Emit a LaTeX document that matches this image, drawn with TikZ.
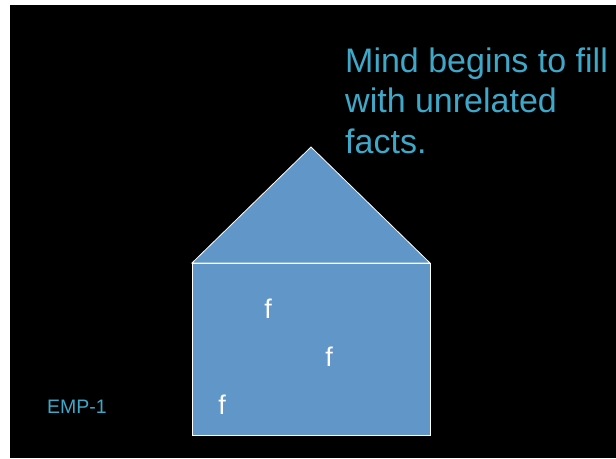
\documentclass[tikz,border=0pt]{standalone}
\usepackage{fontspec}
\setmainfont{Liberation Sans}
\definecolor{housefill}{RGB}{96,150,200}
\definecolor{teal}{RGB}{62,168,200}
\begin{document}
\begin{tikzpicture}[x=1pt,y=-1pt,
  housepart/.style={fill=housefill,draw=white,line width=0.8pt},
  fact/.style={text=white,font=\fontsize{27}{27}\selectfont,inner sep=0pt},
  caption/.style={text=teal,inner sep=0pt,anchor=base west}]
\useasboundingbox (0,0) rectangle (616,458);
\fill[white] (0,0) rectangle (616,458);
\fill[black] (10,5) rectangle (616,458);
\coordinate (apex) at (311,147);
\coordinate (bl) at (192,263);
\coordinate (br) at (430,263);
\draw[housepart] (bl) -- (apex) -- (br) -- cycle;
\draw[housepart] (192,263) rectangle (430,435);
\node[fact] (f1) at (268,309) {f};
\node[fact] (f2) at (329,357) {f};
\node[fact] (f3) at (222,405) {f};
\node[caption,font=\fontsize{34}{34}\selectfont] (l1) at (345,72) {Mind begins to fill};
\node[caption,font=\fontsize{34}{34}\selectfont] (l2) at (345,112) {with unrelated};
\node[caption,font=\fontsize{34}{34}\selectfont] (l3) at (345,153) {facts.};
\node[caption,font=\fontsize{19.5}{19.5}\selectfont] (emp) at (47,413) {EMP-1};
\end{tikzpicture}
\end{document}
